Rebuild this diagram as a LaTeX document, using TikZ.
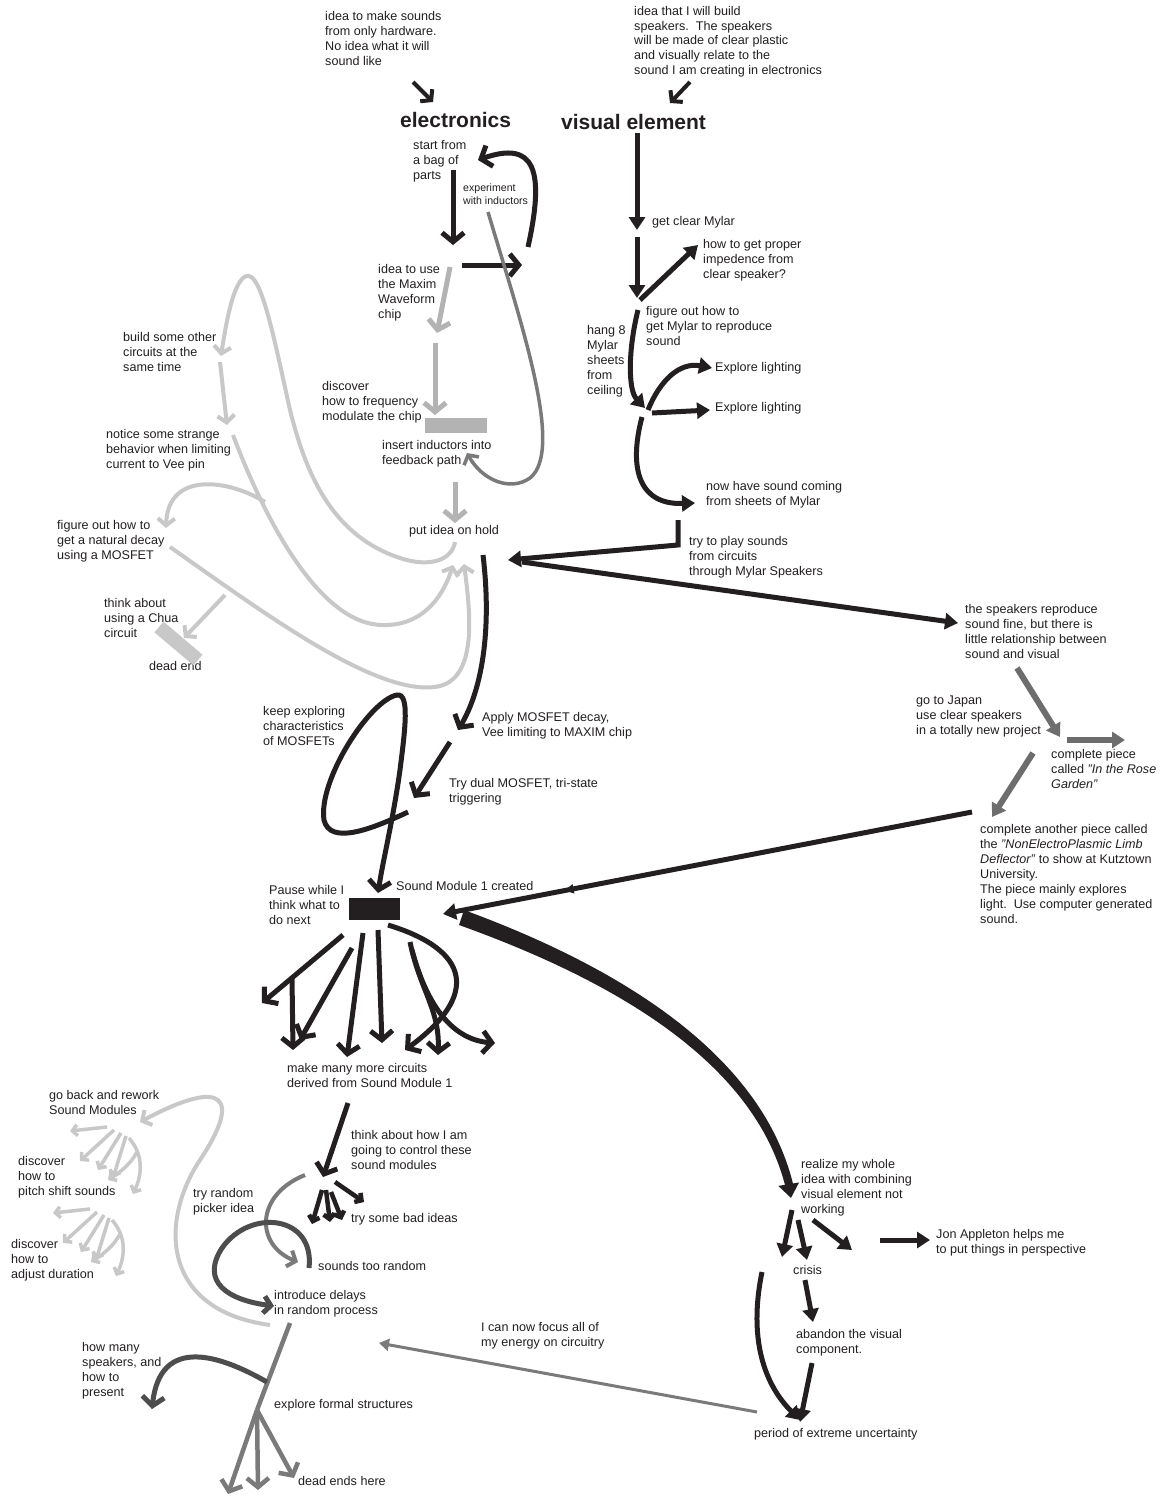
\documentclass[tikz,border=0pt]{standalone}
\usepackage{fontspec}
\setmainfont{Liberation Sans}
\usetikzlibrary{arrows.meta,decorations.markings}
\definecolor{ink}{HTML}{231F20}
\definecolor{gdk}{HTML}{4D4D4D}
\definecolor{gmd}{HTML}{7A7A7A}
\definecolor{gjp}{HTML}{6D6D6D}
\definecolor{glt}{HTML}{B3B3B3}
\definecolor{gvl}{HTML}{C8C8C8}
\begin{document}
\begin{tikzpicture}[x=1pt,y=-1pt,
  lb/.style={anchor=north west, inner sep=0pt, align=left, font=\fontsize{12.6}{15}\selectfont, text=ink},
  lbr/.style={anchor=north west, inner sep=0pt, align=left, font=\fontsize{12.6}{14.7}\selectfont, text=ink},
  lbs/.style={anchor=north west, inner sep=0pt, align=left, font=\fontsize{10.6}{13}\selectfont, text=ink},
  hd/.style={anchor=base west, inner sep=0pt, font=\bfseries\fontsize{21}{25}\selectfont, text=ink},
  k5/.style={draw=ink, line width=5pt},
  bh/.style={-{Straight Barb[length=9pt,width=22pt]}},
  bm/.style={-{Straight Barb[length=7pt,width=17pt]}},
  bs/.style={-{Straight Barb[length=5pt,width=11pt]}},
  th/.style={-{Triangle[length=13pt,width=16pt]}},
  tm/.style={-{Triangle[length=10pt,width=12pt]}},
  lg/.style={draw=gvl, line width=4pt},
  jp/.style={draw=gjp, line width=6pt},
]
\useasboundingbox (0,0) rectangle (1160,1501);
\fill[white] (0,0) rectangle (1160,1501);

% ---------------- texts ----------------
\node[lb] (t1) at (325,11) {idea to make sounds\\from only hardware.\\No idea what it will\\sound like};
\node[lbr] (t2) at (634,6) {idea that I will build\\speakers.\ \ The speakers\\will be made of clear plastic\\and visually relate to the\\sound I am creating in electronics};
\node[hd] (elec) at (400,128) {electronics};
\node[hd] (vis) at (561,130) {visual element};

\node[lb] (bag) at (413,140) {start from\\a bag of\\parts};
\node[lbs] (exp) at (463,184) {experiment\\with inductors};
\node[lb] (maxim) at (378,264) {idea to use\\the Maxim\\Waveform\\chip};
\node[lb] (fm) at (322,381) {discover\\how to frequency\\modulate the chip};
\node[lb] (ins) at (382,440) {insert inductors into\\feedback path};
\node[lb] (hold) at (409,525) {put idea on hold};

\node[lb] (other) at (123,332) {build some other\\circuits at the\\same time};
\node[lb] (strange) at (106,429) {notice some strange\\behavior when limiting\\current to Vee pin};
\node[lb] (decay) at (57,520) {figure out how to\\get a natural decay\\using a MOSFET};
\node[lb] (chua) at (104,598) {think about\\using a Chua\\circuit};
\node[lb] (dead1) at (149,661) {dead end};

\node[lb] (mylar) at (652,216) {get clear Mylar};
\node[lb] (imp) at (703,239) {how to get proper\\impedence from\\clear speaker?};
\node[lb] (repro) at (646,306) {figure out how to\\get Mylar to reproduce\\sound};
\node[lb] (hang) at (587,325) {hang 8\\Mylar\\sheets\\from\\ceiling};
\node[lb] (light1) at (715,362) {Explore lighting};
\node[lb] (light2) at (715,402) {Explore lighting};
\node[lb] (coming) at (706,481) {now have sound coming\\from sheets of Mylar};
\node[lb] (play) at (689,536) {try to play sounds\\from circuits\\through Mylar Speakers};

\node[lb] (fine) at (965,604) {the speakers reproduce\\sound fine, but there is\\little relationship between\\sound and visual};
\node[lb] (japan) at (916,696) {go to Japan\\use clear speakers\\in a totally new project};
\node[lb] (rose) at (1051,749) {complete piece\\called \textit{"In the Rose}\\\textit{Garden"}};
\node[lb] (limb) at (980,824) {complete another piece called\\the \textit{"NonElectroPlasmic Limb}\\\textit{Deflector"} to show at Kutztown\\University.\\The piece mainly explores\\light.\ \ Use computer generated\\sound.};

\node[lb] (keep) at (263,706) {keep exploring\\characteristics\\of MOSFETs};
\node[lb] (apply) at (482,712) {Apply MOSFET decay,\\Vee limiting to MAXIM chip};
\node[lb] (dual) at (449,778) {Try dual MOSFET, tri-state\\triggering};
\node[lb] (pause) at (269,885) {Pause while I\\think what to\\do next};
\node[lb] (sm1) at (396,881) {Sound Module 1 created};
\node[lb] (many) at (287,1063) {make many more circuits\\derived from Sound Module 1};

\node[lb] (rework) at (49,1090) {go back and rework\\Sound Modules};
\node[lb] (pitch) at (18,1156) {discover\\how to\\pitch shift sounds};
\node[lb] (dur) at (11,1239) {discover\\how to\\adjust duration};
\node[lb] (picker) at (193,1188) {try random\\picker idea};
\node[lb] (control) at (351,1130) {think about how I am\\going to control these\\sound modules};
\node[lb] (bad) at (351,1213) {try some bad ideas};
\node[lb] (toorand) at (318,1261) {sounds too random};
\node[lb] (delays) at (274,1290) {introduce delays\\in random process};
\node[lb] (speak) at (82,1342) {how many\\speakers, and\\how to\\present};
\node[lb] (formal) at (274,1399) {explore formal structures};
\node[lb] (deadends) at (298,1476) {dead ends here};
\node[lb] (focus) at (481,1322) {I can now focus all of\\my energy on circuitry};

\node[lb] (realize) at (801,1159) {realize my whole\\idea with combining\\visual element not\\working};
\node[lb] (jon) at (936,1229) {Jon Appleton helps me\\to put things in perspective};
\node[lb] (crisis) at (793,1265) {crisis};
\node[lb] (abandon) at (796,1329) {abandon the visual\\component.};
\node[lb] (period) at (754,1428) {period of extreme uncertainty};

% ---------------- top arrows ----------------
\draw[draw=ink,line width=4pt,bm] (413,82) -- (433,102);
\draw[draw=ink,line width=4pt,bm] (690,82) -- (670,103);

% ---------------- electronics column ----------------
\draw[k5,bh] (453,170) -- (453,245);
\draw[k5,bh] (462,265) -- (522,265);
\draw[k5,bh] (528,247) .. controls (545,170) and (535,140) .. (478,160);
\draw[draw=gmd,line width=3.5pt,bm] (488,212) .. controls (520,320) and (565,450) .. (530,478) .. controls (510,492) and (482,480) .. (467,453);
\draw[draw=glt,line width=5pt,bh] (450,267) -- (437,333);
\draw[draw=glt,line width=5pt,bh] (435,343) -- (435,415);
\fill[glt] (425,418) rectangle (487,433);
\draw[draw=glt,line width=5pt,bh] (455,482) -- (455,523);

% ---------------- left light-gray loops ----------------
\draw[lg,bm] (455,542) .. controls (452,560) and (430,568) .. (400,558) .. controls (330,535) and (305,470) .. (290,410) .. controls (270,320) and (257,250) .. (238,285) .. controls (230,300) and (225,330) .. (221,356);
\draw[lg,bm] (220,362) -- (227,425);
\draw[lg,bm] (233,435) .. controls (265,520) and (320,625) .. (383,625) .. controls (420,626) and (442,600) .. (453,565);
\draw[lg,bm] (265,502) .. controls (230,480) and (168,470) .. (166,528);
\draw[lg,bm] (170,547) .. controls (260,610) and (380,700) .. (440,686) .. controls (478,676) and (470,610) .. (464,564);
\draw[lg,bm] (225,595) -- (184,638);
\draw[draw=gvl,line width=14pt] (159,627) -- (198,660);

% ---------------- visual column ----------------
\draw[k5,th] (637,133) -- (637,230);
\draw[k5,th] (637,237) -- (637,298);
\draw[k5,th] (640,300) -- (698,245);
\draw[k5,th] (638,310) .. controls (628,350) and (628,390) .. (645,408);
\draw[k5,th] (648,410) .. controls (660,380) and (680,362) .. (712,368);
\draw[k5,th] (652,413) -- (710,410);
\draw[k5,th] (642,417) .. controls (628,470) and (640,505) .. (695,503);
\draw[k5,th,line join=miter] (678,520) -- (678,545) -- (508,560);
\draw[k5,th] (522,562) -- (958,623);

% ---------------- right side ----------------
\draw[jp,th] (1017,668) -- (1060,737);
\draw[jp,th] (1067,740) -- (1125,740);
\draw[jp,th] (1033,753) -- (992,817);
\draw[k5,th,postaction={decorate},decoration={markings,mark=at position 0.77 with {\arrow{Triangle[length=9pt,width=9pt]}}}] (972,812) -- (443,914);

% thick tapered curve
\fill[ink] (464,910) .. controls (622,968) and (764,1056) .. (794,1188) -- (786,1189) .. controls (756,1064) and (618,982) .. (459,925) -- cycle;
\draw[draw=ink,line width=6pt,-{Triangle[length=14pt,width=20pt]}] (788,1180) -- (791,1198);

% ---------------- middle ----------------
\draw[k5,bh] (483,555) .. controls (492,630) and (482,690) .. (458,730);
\draw[k5,bh] (450,742) -- (414,798);
\draw[k5,bh] (408,812) .. controls (370,830) and (330,845) .. (324,820) .. controls (318,780) and (370,700) .. (397,695) .. controls (410,693) and (405,730) .. (400,770) .. controls (393,820) and (383,860) .. (378,893);
\fill[ink] (349,898) rectangle (400,920);

% fan from Sound Module 1
\draw[k5,bh] (343,935) -- (262,1003);
\draw[k5,bh] (292,978) -- (293,1050);
\draw[k5,bh] (352,948) -- (300,1040);
\draw[k5,bh] (363,933) -- (347,1057);
\draw[k5,bh] (378,930) -- (382,1043);
\draw[k5,bh] (388,925) .. controls (470,950) and (480,995) .. (405,1050);
\draw[k5,bh] (410,942) .. controls (420,990) and (440,1010) .. (438,1055);
\draw[k5,bh] (412,950) .. controls (428,1010) and (455,1040) .. (495,1043);

% ---------------- lower middle ----------------
\draw[k5,bh] (348,1103) -- (323,1177);
\draw[draw=ink,line width=4.5pt,bs] (322,1190) -- (312,1224);
\draw[draw=ink,line width=4.5pt,bs] (326,1190) -- (330,1222);
\draw[draw=ink,line width=4.5pt,bs] (331,1192) -- (342,1220);
\draw[draw=ink,line width=4.5pt,bs] (335,1182) -- (364,1202);
\draw[draw=gmd,line width=4pt,bm] (305,1175) .. controls (255,1195) and (255,1245) .. (298,1262);
\draw[draw=gdk,line width=5pt,bm] (309,1268) .. controls (315,1215) and (250,1208) .. (222,1248) .. controls (200,1282) and (228,1300) .. (274,1306);
\draw[draw=gvl,line width=4pt,bm] (270,1325) .. controls (160,1310) and (160,1220) .. (200,1160) .. controls (240,1100) and (228,1075) .. (140,1122);

% light-gray small fans
\foreach \sx/\sy in {112/1130, 95/1212} {
\begin{scope}[shift={(\sx,\sy)}]
  \draw[draw=gvl,line width=3.5pt,bs] (-5,-3) -- (-42,1);
  \draw[draw=gvl,line width=3.5pt,bs] (2,0) -- (-32,31);
  \draw[draw=gvl,line width=3.5pt,bs] (9,3) -- (-14,40);
  \draw[draw=gvl,line width=3.5pt,bs] (14,6) -- (1,48);
  \draw[draw=gvl,line width=3.5pt,bs] (17,8) .. controls (32,25) and (30,45) .. (21,64);
  \draw[draw=gvl,line width=3.5pt,bs] (25,22) .. controls (18,35) and (8,42) .. (-4,50);
\end{scope}}

% formal structures
\draw[draw=gmd,line width=4.5pt] (290,1323) -- (257,1410);
\draw[draw=gmd,line width=4.5pt,bh] (257,1410) -- (228,1494);
\draw[draw=gmd,line width=4.5pt,bh] (257,1410) -- (258,1490);
\draw[draw=gmd,line width=4.5pt,bh] (257,1410) -- (294,1478);
\draw[draw=gdk,line width=5pt,bh] (267,1382) .. controls (220,1355) and (160,1335) .. (152,1409);
\draw[draw=gmd,line width=3pt,tm] (757,1412) -- (379,1343);

% ---------------- bottom right ----------------
\draw[k5,th] (792,1210) -- (782,1257);
\draw[k5,th] (798,1220) -- (807,1260);
\draw[k5,th] (813,1220) -- (852,1250);
\draw[k5,th] (880,1240) -- (930,1240);
\draw[k5,th] (805,1280) -- (813,1322);
\draw[k5,th] (812,1363) -- (800,1422);
\draw[k5,th] (762,1272) .. controls (748,1340) and (765,1385) .. (800,1420);
\end{tikzpicture}
\end{document}
